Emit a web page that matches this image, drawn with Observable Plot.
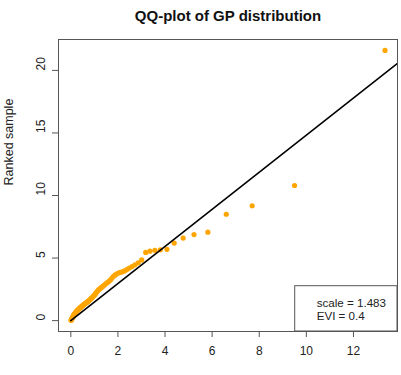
<!DOCTYPE html>
<html>
<head>
<meta charset="utf-8">
<script src="https://cdn.jsdelivr.net/npm/d3@7"></script>
<script src="https://cdn.jsdelivr.net/npm/@observablehq/plot@0.6"></script>
<style>
  html, body { margin: 0; padding: 0; background: #fff; }
  #chart svg { display: block; }
</style>
</head>
<body>
<div id="chart"></div>
<script>
// Theoretical GP quantiles (unit scale) against the ranked sample, 100 observations
const theoreticalQuantiles = [
  0.010, 0.020, 0.030, 0.041, 0.051, 0.062, 0.073, 0.084, 0.095, 0.106,
  0.118, 0.130, 0.142, 0.154, 0.166, 0.178, 0.191, 0.204, 0.217, 0.231,
  0.244, 0.258, 0.272, 0.287, 0.301, 0.316, 0.331, 0.347, 0.362, 0.378,
  0.395, 0.411, 0.429, 0.446, 0.464, 0.482, 0.500, 0.520, 0.539, 0.559,
  0.579, 0.600, 0.621, 0.643, 0.665, 0.688, 0.712, 0.736, 0.760, 0.786,
  0.812, 0.839, 0.867, 0.895, 0.925, 0.954, 0.985, 1.02, 1.05, 1.08,
  1.12, 1.16, 1.20, 1.24, 1.28, 1.32, 1.36, 1.41, 1.46, 1.51,
  1.56, 1.62, 1.68, 1.74, 1.80, 1.87, 1.94, 2.02, 2.10, 2.19,
  2.28, 2.38, 2.48, 2.60, 2.72, 2.86, 3.01, 3.18, 3.36, 3.57,
  3.80, 4.08, 4.39, 4.77, 5.23, 5.82, 6.60, 7.70, 9.50, 13.34
];
const rankedSample = [
  0.02, 0.05, 0.09, 0.12, 0.16, 0.20, 0.25, 0.29, 0.33, 0.38,
  0.41, 0.45, 0.48, 0.52, 0.55, 0.58, 0.62, 0.65, 0.68, 0.71,
  0.74, 0.77, 0.80, 0.83, 0.86, 0.88, 0.91, 0.94, 0.97, 1.00,
  1.02, 1.05, 1.08, 1.11, 1.14, 1.17, 1.20, 1.23, 1.26, 1.29,
  1.32, 1.35, 1.38, 1.41, 1.44, 1.47, 1.50, 1.54, 1.58, 1.62,
  1.67, 1.72, 1.77, 1.82, 1.88, 1.94, 2.00, 2.07, 2.15, 2.24,
  2.33, 2.42, 2.49, 2.56, 2.62, 2.68, 2.74, 2.82, 2.90, 2.98,
  3.05, 3.14, 3.25, 3.38, 3.52, 3.63, 3.72, 3.80, 3.85, 3.90,
  3.97, 4.08, 4.20, 4.32, 4.46, 4.62, 4.85, 5.45, 5.55, 5.62,
  5.66, 5.70, 6.20, 6.60, 6.88, 7.07, 8.50, 9.18, 10.80, 21.60
];

// Fitted parameters
const scaleParam = 1.483;
const eviParam = 0.4;

// Reference line endpoints (quantile axis)
const lineQuantiles = [0, 14];

// Axis ticks and texts
const xTicks = [0, 2, 4, 6, 8, 10, 12];
const yTicks = [0, 5, 10, 15, 20];
const titleText = "QQ-plot of GP distribution";
const yLabelText = "Ranked sample";
const legendLines = [`scale = ${scaleParam}`, `EVI = ${eviParam}`];

const W = 401, H = 375;
const m = { top: 39, right: 4, bottom: 44, left: 58 };
const font = '"Liberation Sans", Arial, Helvetica, sans-serif';

const points = theoreticalQuantiles.map((q, i) => ({ q, s: rankedSample[i] }));
const fitLine = lineQuantiles.map(q => ({ q, s: scaleParam * q }));

const chart = Plot.plot({
  width: W,
  height: H,
  marginTop: m.top,
  marginRight: m.right,
  marginBottom: m.bottom,
  marginLeft: m.left,
  style: { fontFamily: font, background: "#fff", overflow: "visible" },
  x: { domain: [-0.523, 13.87], label: null },
  y: { domain: [-0.87, 22.47], label: null },
  marks: [
    Plot.dot(points, { x: "q", y: "s", r: 2.6, fill: "#FFA500", stroke: "none" }),
    Plot.line(fitLine, { x: "q", y: "s", stroke: "#000", strokeWidth: 1.6, clip: true }),
    Plot.frame({ stroke: "#555" }),
    Plot.axisX(xTicks, { tickSize: 6, tickFormat: () => "", stroke: "#555", label: null }),
    Plot.axisY(yTicks, { tickSize: 6, tickFormat: () => "", stroke: "#555", label: null }),
    Plot.text(xTicks, { x: d => d, frameAnchor: "bottom", dy: 23, text: d => String(d), fontSize: 12, fill: "#222" }),
    Plot.text(yTicks, { y: d => d, frameAnchor: "left", dx: -17.5, rotate: -90, text: d => String(d), fontSize: 12, fill: "#222" }),
    Plot.text([yLabelText], { frameAnchor: "left", dx: -50, rotate: -90, text: d => d, fontSize: 12.5, fill: "#222" }),
    Plot.text([titleText], { frameAnchor: "top", dy: -29, text: d => d, fontSize: 15, fontWeight: "bold", fill: "#111" })
  ]
});

// Legend box in the bottom-right corner of the plotting region
const svg = d3.select(chart);
const right = W - m.right, bottom = H - m.bottom;
const boxW = 102.3, boxH = 45.3;
const legend = svg.append("g")
  .attr("font-family", font)
  .attr("font-size", 11.6)
  .attr("text-anchor", "start")
  .attr("fill", "#222");
legend.append("rect")
  .attr("x", right - boxW).attr("y", bottom - boxH)
  .attr("width", boxW).attr("height", boxH)
  .attr("fill", "#fff").attr("stroke", "#555");
legend.selectAll("text.entry").data(legendLines).join("text")
  .attr("class", "entry")
  .attr("text-anchor", "start")
  .attr("x", right - boxW + 22)
  .attr("y", (d, i) => bottom - boxH + 21.2 + i * 12.8)
  .text(d => d);

document.getElementById("chart").appendChild(chart);
</script>
</body>
</html>
